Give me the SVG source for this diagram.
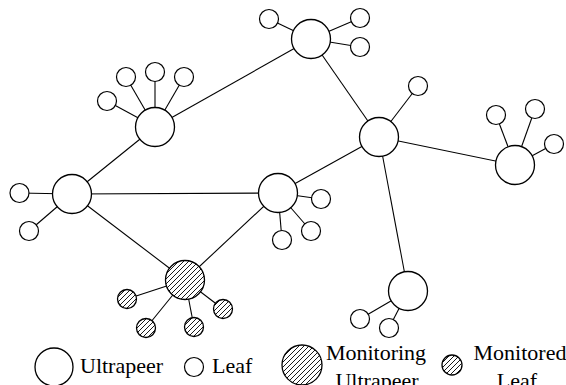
<svg xmlns="http://www.w3.org/2000/svg" width="566" height="385" viewBox="0 0 566 385">
<defs>
<pattern id="hatch" patternUnits="userSpaceOnUse" width="5" height="5">
<rect width="5" height="5" fill="#fff"/>
<path d="M-1,1 L1,-1 M0,5 L5,0 M4,6 L6,4" stroke="#000" stroke-width="0.9"/>
</pattern>
</defs>
<style>
.e{stroke:#000;stroke-width:1.1;fill:none}
.u{fill:#fff;stroke:#000;stroke-width:1.3}
.l{fill:#fff;stroke:#000;stroke-width:1.2}
.h{fill:url(#hatch);stroke:#000;stroke-width:1.3}
</style>
<rect width="566" height="385" fill="#fff"/>
<g id="connectors" class="e">
<line x1="72" y1="194" x2="155" y2="127"/>
<line x1="155" y1="127" x2="311" y2="39"/>
<line x1="311" y1="39" x2="379" y2="137"/>
<line x1="379" y1="137" x2="515" y2="165"/>
<line x1="379" y1="137" x2="278" y2="193"/>
<line x1="379" y1="137" x2="408" y2="291"/>
<line x1="72" y1="194" x2="278" y2="193"/>
<line x1="72" y1="194" x2="185" y2="280"/>
<line x1="278" y1="193" x2="185" y2="280"/>
<line x1="155" y1="127" x2="107" y2="101"/>
<line x1="155" y1="127" x2="126" y2="77"/>
<line x1="155" y1="127" x2="155" y2="72"/>
<line x1="155" y1="127" x2="184" y2="77"/>
<line x1="311" y1="39" x2="269" y2="19"/>
<line x1="311" y1="39" x2="360" y2="18"/>
<line x1="311" y1="39" x2="360" y2="47"/>
<line x1="379" y1="137" x2="418" y2="86"/>
<line x1="515" y1="165" x2="496" y2="115"/>
<line x1="515" y1="165" x2="535" y2="109"/>
<line x1="515" y1="165" x2="554" y2="144"/>
<line x1="72" y1="194" x2="19.5" y2="193"/>
<line x1="72" y1="194" x2="29" y2="231"/>
<line x1="278" y1="193" x2="321" y2="199"/>
<line x1="278" y1="193" x2="311" y2="231"/>
<line x1="278" y1="193" x2="282" y2="240"/>
<line x1="408" y1="291" x2="360" y2="319"/>
<line x1="408" y1="291" x2="389" y2="328"/>
<line x1="185" y1="280" x2="127" y2="299"/>
<line x1="185" y1="280" x2="223" y2="309"/>
<line x1="185" y1="280" x2="146" y2="328"/>
<line x1="185" y1="280" x2="194" y2="327"/>
</g>
<g id="ultrapeerA"><circle class="u" cx="155" cy="127" r="19.5"/></g>
<g id="ultrapeerB"><circle class="u" cx="311" cy="39" r="19.5"/></g>
<g id="ultrapeerC"><circle class="u" cx="379" cy="137" r="19.5"/></g>
<g id="ultrapeerD"><circle class="u" cx="515" cy="165" r="19.5"/></g>
<g id="ultrapeerE"><circle class="u" cx="72" cy="194" r="19.5"/></g>
<g id="ultrapeerF"><circle class="u" cx="278" cy="193" r="19.5"/></g>
<g id="ultrapeerG"><circle class="u" cx="408" cy="291" r="19.5"/></g>
<g id="monitoringUltrapeer"><circle class="h" cx="185" cy="280" r="19.5"/></g>
<g id="leafA1"><circle class="l" cx="107" cy="101" r="9.5"/></g>
<g id="leafA2"><circle class="l" cx="126" cy="77" r="9.5"/></g>
<g id="leafA3"><circle class="l" cx="155" cy="72" r="9.5"/></g>
<g id="leafA4"><circle class="l" cx="184" cy="77" r="9.5"/></g>
<g id="leafB1"><circle class="l" cx="269" cy="19" r="9.5"/></g>
<g id="leafB2"><circle class="l" cx="360" cy="18" r="9.5"/></g>
<g id="leafB3"><circle class="l" cx="360" cy="47" r="9.5"/></g>
<g id="leafC1"><circle class="l" cx="418" cy="86" r="9.5"/></g>
<g id="leafD1"><circle class="l" cx="496" cy="115" r="9.5"/></g>
<g id="leafD2"><circle class="l" cx="535" cy="109" r="9.5"/></g>
<g id="leafD3"><circle class="l" cx="554" cy="144" r="9.5"/></g>
<g id="leafE1"><circle class="l" cx="19.5" cy="193" r="9.5"/></g>
<g id="leafE2"><circle class="l" cx="29" cy="231" r="9.5"/></g>
<g id="leafF1"><circle class="l" cx="321" cy="199" r="9.5"/></g>
<g id="leafF2"><circle class="l" cx="311" cy="231" r="9.5"/></g>
<g id="leafF3"><circle class="l" cx="282" cy="240" r="9.5"/></g>
<g id="leafG1"><circle class="l" cx="360" cy="319" r="9.5"/></g>
<g id="leafG2"><circle class="l" cx="389" cy="328" r="9.5"/></g>
<g id="monitoredLeaf1"><circle class="h" cx="127" cy="299" r="9.5"/></g>
<g id="monitoredLeaf2"><circle class="h" cx="223" cy="309" r="9.5"/></g>
<g id="monitoredLeaf3"><circle class="h" cx="146" cy="328" r="9.5"/></g>
<g id="monitoredLeaf4"><circle class="h" cx="194" cy="327" r="9.5"/></g>
<g id="legend" font-family="'Liberation Serif', 'DejaVu Serif', serif" font-size="22" fill="#000">
<circle class="u" cx="54" cy="367" r="19"/>
<text x="80" y="373">Ultrapeer</text>
<circle class="l" cx="194" cy="367" r="9.5"/>
<text x="212" y="373">Leaf</text>
<circle class="h" cx="302" cy="365" r="20"/>
<text x="376" y="360" text-anchor="middle">Monitoring</text>
<text x="377" y="388" text-anchor="middle">Ultrapeer</text>
<circle class="h" cx="452" cy="365" r="10"/>
<text x="520" y="360" text-anchor="middle">Monitored</text>
<text x="517" y="388" text-anchor="middle">Leaf</text>
</g>
</svg>
